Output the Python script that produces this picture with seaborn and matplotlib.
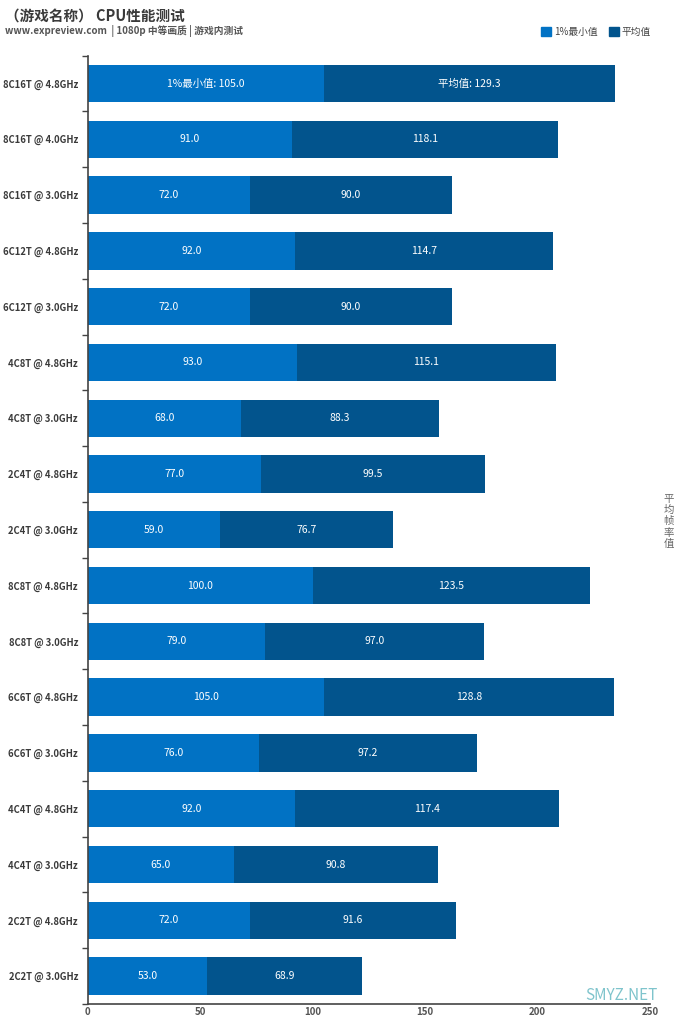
import numpy as np
import pandas as pd
import seaborn as sns
from matplotlib import pyplot as plt
from matplotlib.patches import Patch

# 数据
labels = ['8C16T @ 4.8GHz', '8C16T @ 4.0GHz', '8C16T @ 3.0GHz',
          '6C12T @ 4.8GHz', '6C12T @ 3.0GHz',
          '4C8T @ 4.8GHz', '4C8T @ 3.0GHz',
          '2C4T @ 4.8GHz', '2C4T @ 3.0GHz',
          '8C8T @ 4.8GHz', '8C8T @ 3.0GHz',
          '6C6T @ 4.8GHz', '6C6T @ 3.0GHz',
          '4C4T @ 4.8GHz', '4C4T @ 3.0GHz',
          '2C2T @ 4.8GHz', '2C2T @ 3.0GHz']
min_fps = [105.0, 91.0, 72.0, 92.0, 72.0, 93.0, 68.0, 77.0, 59.0,
           100.0, 79.0, 105.0, 76.0, 92.0, 65.0, 72.0, 53.0]
avg_fps = [129.3, 118.1, 90.0, 114.7, 90.0, 115.1, 88.3, 99.5, 76.7,
           123.5, 97.0, 128.8, 97.2, 117.4, 90.8, 91.6, 68.9]
x_ticks = [0, 50, 100, 150, 200, 250]

c_min = '#0172C4'
c_avg = '#02548D'

sns.set_theme(style='white')
plt.rcParams['font.family'] = ['Noto Sans CJK SC', 'DejaVu Sans']
plt.rcParams['axes.unicode_minus'] = False

df = pd.DataFrame({'label': labels, 'min': min_fps, 'avg': avg_fps})
df['total'] = df['min'] + df['avg']

fig = plt.figure(figsize=(6.8, 10.22), dpi=100)
ax = fig.add_axes([0.129, 0.0176, 0.827, 0.928])

# 堆叠条形：先画总和（深色），再画最小值（浅色）
sns.barplot(data=df, x='total', y='label', color=c_avg, saturation=1,
            width=0.67, ax=ax, orient='h', linewidth=0)
sns.barplot(data=df, x='min', y='label', color=c_min, saturation=1,
            width=0.67, ax=ax, orient='h', linewidth=0)

for i, (m, a) in enumerate(zip(min_fps, avg_fps)):
    if i == 0:
        t1, t2 = f'1%最小值: {m:.1f}', f'平均值: {a:.1f}'
    else:
        t1, t2 = f'{m:.1f}', f'{a:.1f}'
    ax.text(m / 2, i, t1, ha='center', va='center', color='white', fontsize=7.5)
    ax.text(m + a / 2, i, t2, ha='center', va='center', color='white', fontsize=7.5)

ax.set_xlim(0, 250)
ax.set_ylim(len(labels) - 0.5, -0.5)
ax.set_xticks(x_ticks)
ax.set_xticklabels([str(v) for v in x_ticks], fontsize=7, color='#555555',
                   fontweight='bold')
ax.set_yticks(range(len(labels)))
ax.set_yticklabels(labels, fontsize=6.8, fontweight='bold', color='#3a3a3a')
ax.set_xlabel('')
ax.set_ylabel('')
ax.tick_params(axis='y', length=0, pad=7)
ax.tick_params(axis='x', length=0, pad=2)
ax.set_yticks(np.arange(len(labels) + 1) - 0.5, minor=True)
ax.tick_params(axis='y', which='minor', length=4, color='#444444', width=1, left=True)
for s in ['top', 'right']:
    ax.spines[s].set_visible(False)
for s in ['left', 'bottom']:
    ax.spines[s].set_color('#444444')
    ax.spines[s].set_linewidth(1.2)

# 标题、副标题
fig.text(0.008, 0.985, '（游戏名称） CPU性能测试', fontsize=10.5, fontweight='bold',
         color='#3a3a3a', va='center')
fig.text(0.008, 0.970, 'www.expreview.com  | 1080p 中等画质 | 游戏内测试',
         fontsize=7, color='#555555', va='center', fontweight='bold')

# 图例
handles = [Patch(color=c_min, label='1%最小值'), Patch(color=c_avg, label='平均值')]
fig.legend(handles=handles, loc='center right', bbox_to_anchor=(0.97, 0.969), ncol=2,
           frameon=False, fontsize=7, handlelength=1.0, handleheight=1.0,
           handletextpad=0.3, columnspacing=1.2, labelcolor='#444444')

# 右侧竖排单位
fig.text(0.983, 0.49, '\n'.join('平均帧率值'), fontsize=7.5, color='#666666',
         ha='center', va='center', linespacing=1.15)

# 水印
fig.text(0.86, 0.026, 'SMYZ.NET', fontsize=11, color='#7FC4CC', va='center')

fig.savefig('out.png', dpi=100, facecolor='white')
